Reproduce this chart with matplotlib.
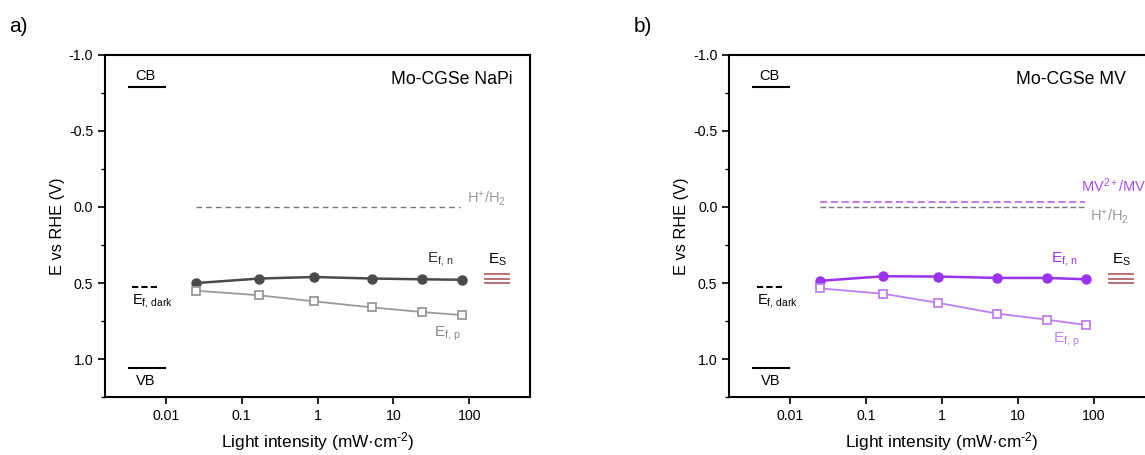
import numpy as np
import matplotlib.pyplot as plt
from matplotlib.ticker import FixedLocator, MultipleLocator

plt.rcParams['font.family'] = ['Liberation Sans', 'DejaVu Sans']
plt.rcParams['mathtext.fontset'] = 'custom'
plt.rcParams['mathtext.rm'] = 'Liberation Sans'
plt.rcParams['mathtext.it'] = 'Liberation Sans'

# light intensity (mW/cm2)
intensity = [0.025, 0.17, 0.9, 5.3, 24, 80]

# panel a: Mo-CGSe NaPi
efn_napi = [0.50, 0.47, 0.46, 0.47, 0.475, 0.478]
efp_napi = [0.55, 0.58, 0.62, 0.66, 0.69, 0.71]

# panel b: Mo-CGSe MV
efn_mv = [0.485, 0.455, 0.457, 0.466, 0.466, 0.475]
efp_mv = [0.535, 0.57, 0.63, 0.70, 0.74, 0.775]

cb_level = -0.79
vb_level = 1.06
ef_dark = 0.525
es_levels = [0.442, 0.470, 0.499]
h_level = 0.0
mv_level = -0.03

fig = plt.figure(figsize=(11.45, 4.55), dpi=100)
ax_a = fig.add_axes([105 / 1145, 57.7 / 455, 425 / 1145, 342.6 / 455])
ax_b = fig.add_axes([729.3 / 1145, 57.7 / 455, 425 / 1145, 342.6 / 455])


def setup(ax):
    ax.set_xscale('log')
    ax.set_xlim(10 ** -2.8, 10 ** 2.8)
    ax.set_ylim(1.25, -1.0)
    ax.xaxis.set_major_locator(FixedLocator([0.01, 0.1, 1, 10, 100]))
    ax.set_xticklabels(['0.01', '0.1', '1', '10', '100'])
    ax.xaxis.set_minor_locator(FixedLocator([]))
    ax.yaxis.set_major_locator(MultipleLocator(0.5))
    ax.yaxis.set_minor_locator(MultipleLocator(0.25))
    ax.yaxis.set_major_formatter(plt.FuncFormatter(lambda v, p: f'{v:.1f}'))
    ax.tick_params(axis='both', which='major', direction='out', length=5, width=1.2,
                   labelsize=10.2, colors='black')
    ax.tick_params(axis='y', which='minor', direction='out', length=3, width=1.0)
    for s in ax.spines.values():
        s.set_linewidth(1.5)
    ax.set_xlabel(r'Light intensity (mW·cm$^{\text{-2}}$)', fontsize=12.4, labelpad=5)
    ax.set_ylabel('E vs RHE (V)', fontsize=11.8, labelpad=3)
    # band edges and dark Fermi level
    ax.hlines(cb_level, 10 ** -2.5, 0.01, color='black', lw=1.5)
    ax.hlines(vb_level, 10 ** -2.5, 0.01, color='black', lw=1.5)
    ax.hlines(ef_dark, 10 ** -2.44, 10 ** -2.07, color='black', lw=1.5, linestyles=(0, (3, 1.5)))
    ax.text(10 ** -2.27, -0.86, 'CB', ha='center', va='center', fontsize=10.5)
    ax.text(10 ** -2.26, 1.14, 'VB', ha='center', va='center', fontsize=10.5)
    ax.text(10 ** -2.44, 0.62, r'E$_{\mathrm{f,\,dark}}$', ha='left', va='center', fontsize=10.5)
    # surface states
    for lv in es_levels:
        ax.hlines(lv, 155, 340, color='#b06468', lw=1.3)
    ax.text(234, 0.40, r'E$_{\mathrm{S}}$', ha='center', va='bottom', fontsize=11)


setup(ax_a)
ax_a.hlines(h_level, 0.025, 76, color='#777777', lw=1.0, linestyles=(0, (4, 3)))
ax_a.text(93, -0.055, r'H$^{+}$/H$_{2}$', color='#999999', ha='left', va='center', fontsize=10.5)
ax_a.plot(intensity, efn_napi, '-o', color='#4a4a4a', lw=1.8, ms=6.5)
ax_a.plot(intensity, efp_napi, '-s', color='#999999', mfc='white', mew=1.3, lw=1.3, ms=5.5)
ax_a.text(42, 0.40, r'E$_{\mathrm{f,\,n}}$', ha='center', va='bottom', fontsize=11, color='#333333')
ax_a.text(51, 0.77, r'E$_{\mathrm{f,\,p}}$', ha='center', va='top', fontsize=11, color='#888888')
ax_a.text(377, -0.84, 'Mo-CGSe NaPi', ha='right', va='center', fontsize=12.7)

setup(ax_b)
ax_b.hlines(mv_level, 0.025, 78, color='#c070e8', lw=1.3, linestyles=(0, (4, 2)))
ax_b.hlines(h_level, 0.025, 78, color='#777777', lw=1.0, linestyles=(0, (4, 2)))
ax_b.text(68, -0.08, r'MV$^{2+}$/MV$^{+}$', color='#a64ef0', ha='left', va='bottom', fontsize=10.5)
ax_b.text(90, 0.066, r'H$^{+}$/H$_{2}$', color='#999999', ha='left', va='center', fontsize=10.5)
ax_b.plot(intensity, efn_mv, '-o', color='#9933ee', lw=1.8, ms=6.5)
ax_b.plot(intensity, efp_mv, '-s', color='#c07ef2', mfc='white', mew=1.3, lw=1.3, ms=5.5)
ax_b.text(41, 0.40, r'E$_{\mathrm{f,\,n}}$', ha='center', va='bottom', fontsize=11, color='#9933ee')
ax_b.text(44, 0.81, r'E$_{\mathrm{f,\,p}}$', ha='center', va='top', fontsize=11, color='#c07ef2')
ax_b.text(267, -0.84, 'Mo-CGSe MV', ha='right', va='center', fontsize=12.7)

fig.text(9 / 1145, 1 - 26 / 455, 'a)', fontsize=15, va='center', ha='left')
fig.text(634 / 1145, 1 - 26 / 455, 'b)', fontsize=15, va='center', ha='left')

fig.savefig('out.png', dpi=100)
